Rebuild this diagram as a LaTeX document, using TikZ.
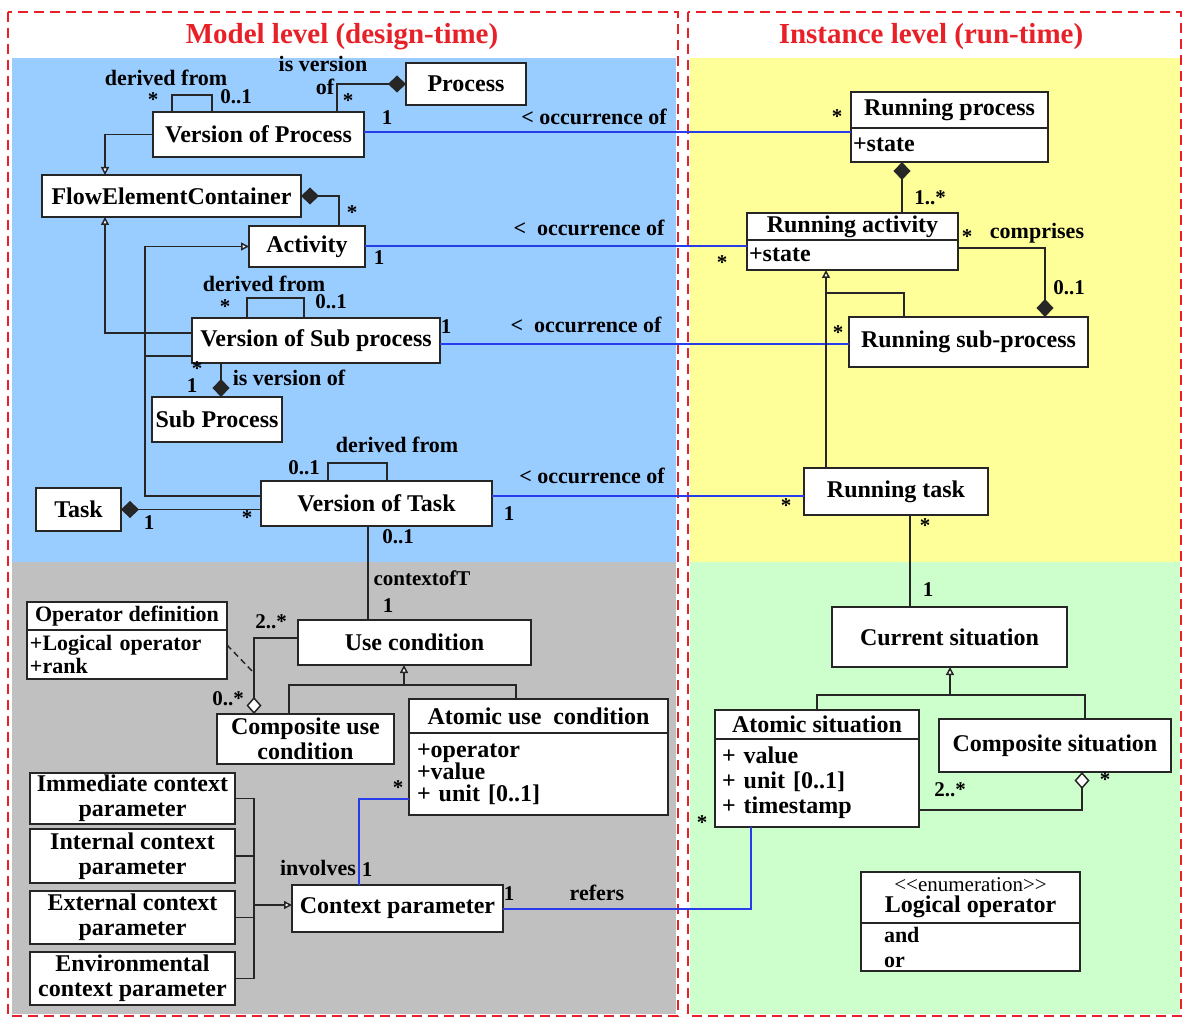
\documentclass[tikz,border=0pt]{standalone}
\usepackage{fontspec}
\setmainfont{Liberation Serif}
\usepackage{xcolor}
\usetikzlibrary{arrows.meta,positioning}

\definecolor{modelblue}{RGB}{153,204,255}
\definecolor{ctxgray}{RGB}{192,192,192}
\definecolor{runyellow}{RGB}{255,255,153}
\definecolor{sitgreen}{RGB}{204,255,204}
\definecolor{framered}{RGB}{232,32,40}
\definecolor{occblue}{RGB}{40,60,235}

\newcommand{\umlfont}{\bfseries\fontsize{24}{25}\selectfont}
\newcommand{\umllab}{\bfseries\fontsize{22}{24}\selectfont}
\newcommand{\umlmult}{\bfseries\fontsize{21}{23}\selectfont}
\newcommand{\umltitle}{\bfseries\fontsize{29}{31}\selectfont}
\newcommand{\umlsmall}{\mdseries\fontsize{21}{23}\selectfont}

\begin{document}
\begin{tikzpicture}[x=1pt,y=-1pt]
\tikzset{box/.style={draw=black!85,line width=1.5pt,fill=white,outer sep=0pt,inner sep=2pt,font=\umlfont}}
\tikzset{attrs/.style={box,align=left,inner ysep=2pt}}
\tikzset{lab/.style={inner sep=0pt,font=\umllab}}
\tikzset{mult/.style={inner sep=0pt,font=\umlmult}}
\tikzset{frame/.style={draw=framered,line width=2.5pt,dash pattern=on 10pt off 6pt}}
\tikzset{occurrence/.style={draw=occblue,line width=2pt}}
\tikzset{assoc/.style={draw=black!85,line width=1.5pt}}
\tikzset{compose/.style={assoc,{Diamond[length=18pt,width=17pt]}-}}
\tikzset{aggregate/.style={assoc,{Diamond[open,fill=white,length=17pt,width=15pt]}-}}
\tikzset{inherit/.style={assoc,-{Triangle[open,fill=white,length=8pt,width=8pt]}}}

\useasboundingbox (0,0) rectangle (1184,1019);

% panels
\fill[white] (0,0) rectangle (1184,1019);
\fill[modelblue] (12,58) rectangle (676,562);
\fill[ctxgray] (12,562) rectangle (676,1014);
\fill[runyellow] (690,58) rectangle (1180,562);
\fill[sitgreen] (690,562) rectangle (1180,1014);
\draw[frame] (8,12) rectangle (678,1016);
\draw[frame] (688,12) rectangle (1181,1016);
\node[font=\umltitle,text=framered] (mtitle) at (342,37) {Model level (design-time)};
\node[font=\umltitle,text=framered] (ititle) at (931,37) {Instance level (run-time)};

% model level
\node[box,minimum width=120pt,minimum height=42pt] (process) at (466,84) {Process};
\node[box,minimum width=211pt,minimum height=45pt] (vop) at (258.5,134.5) {Version of Process};
\node[box,minimum width=259pt,minimum height=42pt] (fec) at (171.5,196) {FlowElementContainer};
\node[box,minimum width=116pt,minimum height=41pt] (activity) at (307,246.5) {Activity};
\node[box,minimum width=248pt,minimum height=45pt] (vosp) at (316,340.5) {Version of Sub process};
\node[box,minimum width=130pt,minimum height=45pt] (subproc) at (217,419.5) {Sub Process};
\node[box,minimum width=85pt,minimum height=43pt] (task) at (78.5,509.5) {Task};
\node[box,minimum width=231pt,minimum height=45pt] (vot) at (376.5,503.5) {Version of Task};
\node[box,minimum width=233pt,minimum height=45pt] (usecond) at (414.5,642.5) {Use condition};
\node[box,minimum width=200pt,minimum height=28pt,font=\bfseries\fontsize{22}{23}\selectfont] (opdefH) at (127,616) {Operator definition};
\node[attrs,below=0pt of opdefH,text width=194pt,inner xsep=3pt,minimum height=49pt,font=\bfseries\fontsize{22}{23}\selectfont] (opdefB) {+Logical operator\\+rank};
\node[box,minimum width=177pt,minimum height=50pt,align=center] (compuse) at (305.5,739) {Composite use\\condition};
\node[box,minimum width=259pt,minimum height=34pt] (atomuseH) at (538.5,716) {Atomic use\ \ condition};
\node[attrs,below=0pt of atomuseH,text width=243pt,inner xsep=8pt,minimum height=82pt,font=\bfseries\fontsize{24}{22}\selectfont] (atomuseB) {+operator\\+value\\+ unit [0..1]};
\node[box,minimum width=205pt,minimum height=51pt,align=center] (imm) at (132.5,798.5) {Immediate context\\parameter};
\node[box,minimum width=205pt,minimum height=54pt,align=center] (intl) at (132.5,856) {Internal context\\parameter};
\node[box,minimum width=205pt,minimum height=53pt,align=center] (ext) at (132.5,917.5) {External context\\parameter};
\node[box,minimum width=205pt,minimum height=53pt,align=center] (env) at (132.5,978.5) {Environmental\\context parameter};
\node[box,minimum width=211pt,minimum height=47pt] (ctxp) at (397.5,908.5) {Context parameter};

% instance level
\node[box,minimum width=197pt,minimum height=36pt] (rpH) at (949.5,110) {Running process};
\node[attrs,below=0pt of rpH,text width=193pt,inner xsep=2pt,minimum height=34pt] (rpB) {+state};
\node[box,minimum width=211pt,minimum height=27pt] (raH) at (852.5,226.5) {Running activity};
\node[attrs,below=0pt of raH,text width=207pt,inner xsep=2pt,minimum height=30pt] (raB) {+state};
\node[box,minimum width=239pt,minimum height=50pt] (rsp) at (968.5,342) {Running sub-process};
\node[box,minimum width=184pt,minimum height=47pt] (rt) at (896,491.5) {Running task};
\node[box,minimum width=235pt,minimum height=60pt] (cs) at (949.5,637) {Current situation};
\node[box,minimum width=204pt,minimum height=29pt] (asH) at (817,724.5) {Atomic situation};
\node[attrs,below=0pt of asH,text width=190pt,inner xsep=7pt,minimum height=88pt] (asB) {+ value\\+ unit [0..1]\\+ timestamp};
\node[box,minimum width=232pt,minimum height=53pt] (compsit) at (1055,745.5) {Composite situation};
\node[box,minimum width=219pt,minimum height=51pt,align=center,font=\bfseries\fontsize{24}{21}\selectfont] (enumH) at (970.5,897.5) {{\umlsmall <{}<enumeration>{}>}\\Logical operator};
\node[attrs,below=0pt of enumH,text width=173pt,inner xsep=23pt,minimum height=48pt,font=\bfseries\fontsize{22}{25}\selectfont] (enumB) {and\\or};

% junctions
\coordinate (acls) at (254,673);
\coordinate (ucbar) at (404,685);
\coordinate (cpbar) at (254,905);
\coordinate (rabar) at (826,293);
\coordinate (csbar) at (950,695);

% model level links
\draw[assoc] ([xshift=-86.5pt]vop.north) -- ++(0,-17) -| ([xshift=-46.5pt]vop.north);
\draw[compose] (process.west) -| ([xshift=78.5pt]vop.north);
\draw[inherit] (vop.west) -| ([xshift=-66.5pt]fec.north);
\draw[compose] (fec.east) -| ([xshift=32pt]activity.north);
\draw[inherit] ([yshift=7.5pt]vosp.west) -| ([xshift=-66.5pt]fec.south);
\draw[inherit] ([yshift=-15.5pt]vosp.west) -| ([xshift=-104pt]activity.west) -- (activity.west);
\draw[assoc] ([yshift=7.5pt]vot.west) -| ([xshift=-104pt]activity.west);
\draw[assoc] ([xshift=-69pt]vosp.north) -- ++(0,-20) -| ([xshift=-12pt]vosp.north);
\draw[compose] ([xshift=4pt]subproc.north) -- ([xshift=-95pt]vosp.south);
\draw[assoc] ([xshift=-48.5pt]vot.north) -- ++(0,-18) -| ([xshift=10.5pt]vot.north);
\draw[compose] (task.east) -- (task.east -| vot.west);
\draw[assoc] ([xshift=-8.5pt]vot.south) -- ([xshift=-46.5pt]usecond.north);
\draw[aggregate] ([xshift=-51.5pt]compuse.north) |- ([yshift=4.5pt]usecond.west);
\draw[assoc,line width=1.5pt,dash pattern=on 6pt off 4pt] ([yshift=9.5pt]opdefB.east) -- (acls);
\draw[inherit] (ucbar) -- ([xshift=-10.5pt]usecond.south);
\draw[assoc] ([xshift=-16.5pt]compuse.north) |- (ucbar) -| ([xshift=-22.5pt]atomuseH.north);
\draw[assoc] (imm.east) -| (cpbar);
\draw[assoc] (env.east) -| (cpbar);
\draw[assoc] (intl.east) -- (intl.east -| cpbar);
\draw[assoc] (ext.east) -- (ext.east -| cpbar);
\draw[inherit] (cpbar) -- (cpbar -| ctxp.west);
\draw[occurrence] ([yshift=-25pt]atomuseB.west) -| ([xshift=-38.5pt]ctxp.north);
\draw[occurrence] (ctxp.east) -| ([xshift=-66pt]asB.south);

% occurrence links
\draw[occurrence] ([yshift=2pt]vop.east) -- ([yshift=2pt]vop.east -| rpB.west);
\draw[occurrence] (activity.east) -- (activity.east -| raB.west);
\draw[occurrence] ([yshift=-3.5pt]vosp.east) -- ([yshift=-3.5pt]vosp.east -| rsp.west);
\draw[occurrence] ([yshift=7.5pt]vot.east) -- ([yshift=7.5pt]vot.east -| rt.west);

% instance level links
\draw[compose] ([xshift=-47.5pt]rpB.south) -- ([xshift=49.5pt]raH.north);
\draw[compose] ([xshift=76.5pt]rsp.north) |- ([yshift=7pt]raB.east);
\draw[inherit] ([xshift=-70pt]rt.north) -- ([xshift=-26.5pt]raB.south);
\draw[assoc] ([xshift=-64.5pt]rsp.north) |- (rabar);
\draw[assoc] ([xshift=14pt]rt.south) -- ([xshift=-39.5pt]cs.north);
\draw[inherit] (csbar) -- (csbar |- cs.south);
\draw[assoc] (asH.north) |- (csbar) -| ([xshift=30pt]compsit.north);
\draw[aggregate] ([xshift=27pt]compsit.south) |- ([yshift=-27pt]asB.east);

% labels
\node[lab] (dfvop) at (166,78) {derived from};
\node[mult] (m1) at (153,100) {*};
\node[mult] (m2) at (236,97) {0..1};
\node[lab] (ivp1) at (323,64) {is version};
\node[lab] (ivp2) at (325,87) {of};
\node[mult] (m3) at (348,101) {*};
\node[mult] (m4) at (387,118) {1};
\node[lab] (occ1) at (594,117) {< occurrence of};
\node[mult] (m5) at (837,117) {*};
\node[mult] (m6) at (352,213) {*};
\node[mult] (m7) at (379,258) {1};
\node[lab] (occ2) at (589,228) {<\ \ occurrence of};
\node[mult] (m8) at (722,263) {*};
\node[lab] (dfvosp) at (264,284) {derived from};
\node[mult] (m9) at (225,307) {*};
\node[mult] (m10) at (331,302) {0..1};
\node[mult] (m11) at (446,327) {1};
\node[lab] (occ3) at (586,325) {<\ \ occurrence of};
\node[mult] (m12) at (838,333) {*};
\node[mult] (m13) at (197,369) {*};
\node[mult] (m14) at (192,386) {1};
\node[lab] (ivsp) at (289,378) {is version of};
\node[lab] (dfvot) at (397,445) {derived from};
\node[mult] (m15) at (304,468) {0..1};
\node[lab] (occ4) at (592,476) {< occurrence of};
\node[mult] (m16) at (786,506) {*};
\node[mult] (m17) at (509,514) {1};
\node[mult] (m18) at (149,523) {1};
\node[mult] (m19) at (247,518) {*};
\node[mult] (m20) at (398,537) {0..1};
\node[mult] (ctxoft) at (422,578) {contextofT};
\node[mult] (m21) at (388,606) {1};
\node[mult] (m22) at (271,622) {2..*};
\node[mult] (m23) at (228,699) {0..*};
\node[mult] (m24) at (398,788) {*};
\node[lab] (inv) at (318,868) {involves};
\node[mult] (m25) at (367,870) {1};
\node[mult] (m26) at (509,894) {1};
\node[lab] (refs) at (597,893) {refers};
\node[mult] (m27) at (702,823) {*};
\node[mult] (m28) at (930,198) {1..*};
\node[mult] (m29) at (967,237) {*};
\node[lab] (cmpr) at (1037,233) {comprises};
\node[mult] (m30) at (1069,288) {0..1};
\node[mult] (m31) at (925,526) {*};
\node[mult] (m32) at (928,590) {1};
\node[mult] (m33) at (950,790) {2..*};
\node[mult] (m34) at (1105,780) {*};

\end{tikzpicture}
\end{document}
